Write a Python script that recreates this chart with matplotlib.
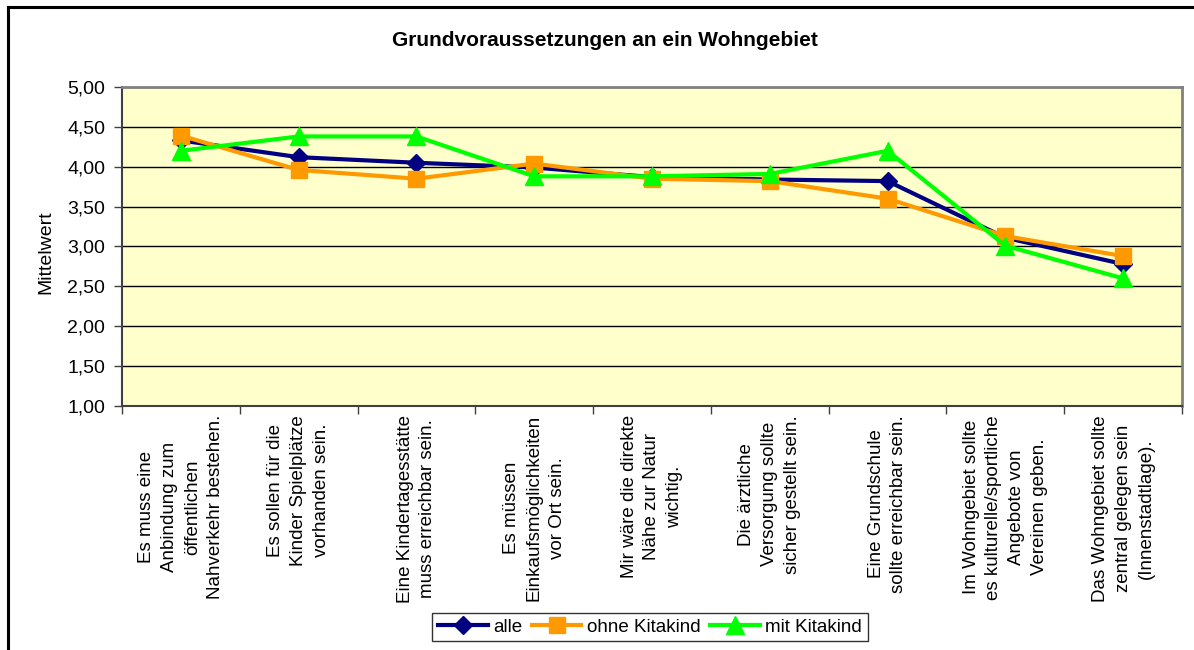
import matplotlib
matplotlib.use("Agg")
import matplotlib.pyplot as plt
import numpy as np
from matplotlib.lines import Line2D

plt.rcParams['font.family'] = ['Liberation Sans', 'DejaVu Sans']

categories = [
    "Es muss eine\nAnbindung zum\nöffentlichen\nNahverkehr bestehen.",
    "Es sollen für die\nKinder Spielplätze\nvorhanden sein.",
    "Eine Kindertagesstätte\nmuss erreichbar sein.",
    "Es müssen\nEinkaufsmöglichkeiten\nvor Ort sein.",
    "Mir wäre die direkte\nNähe zur Natur\nwichtig.",
    "Die ärztliche\nVersorgung sollte\nsicher gestellt sein.",
    "Eine Grundschule\nsollte erreichbar sein.",
    "Im Wohngebiet sollte\nes kulturelle/sportliche\nAngebote von\nVereinen geben.",
    "Das Wohngebiet sollte\nzentral gelegen sein\n(Innenstadtlage).",
]
alle = [4.33, 4.12, 4.05, 3.99, 3.87, 3.84, 3.82, 3.11, 2.78]
ohne_kitakind = [4.39, 3.96, 3.85, 4.04, 3.85, 3.82, 3.60, 3.13, 2.88]
mit_kitakind = [4.20, 4.38, 4.38, 3.88, 3.88, 3.91, 4.20, 3.01, 2.60]
yticks = [1.0, 1.5, 2.0, 2.5, 3.0, 3.5, 4.0, 4.5, 5.0]

W, H = 1194, 650
fig = plt.figure(figsize=(W/100, H/100), dpi=100)
ax = fig.add_axes([122/W, 1-406/H, (1182-122)/W, (406-87)/H])
ax.set_facecolor('#FFFFCC')

x = np.arange(len(categories))
ax.plot(x, alle, color='#000080', lw=3, marker='D', ms=9, label='alle', zorder=3)
ax.plot(x, ohne_kitakind, color='#FF9900', lw=3, marker='s', ms=11, label='ohne Kitakind', zorder=4)
ax.plot(x, mit_kitakind, color='#00FF00', lw=3, marker='^', ms=13, label='mit Kitakind', zorder=5)

ax.set_xlim(-0.5, len(categories)-0.5)
ax.set_ylim(1, 5)
ax.set_yticks(yticks)
ax.set_yticklabels([f"{v:.2f}".replace('.', ',') for v in yticks], fontsize=14)
for v in yticks[1:-1]:
    ax.axhline(v, color='black', lw=1, zorder=1)

ax.set_xticks(np.arange(len(categories)+1)-0.5)
ax.set_xticklabels([])
ax.tick_params(axis='x', length=6, color='#404040', width=1)
ax.tick_params(axis='y', length=6, color='#404040', width=1, pad=6)
for i, c in enumerate(categories):
    ax.text(i, -0.028, c, transform=ax.get_xaxis_transform(), rotation=90,
            ha='center', va='top', multialignment='center', fontsize=13.5,
            linespacing=1.45)

for s in ['left', 'bottom']:
    ax.spines[s].set_color('#404040')
    ax.spines[s].set_linewidth(1.5)
for s in ['top', 'right']:
    ax.spines[s].set_color('#808080')
    ax.spines[s].set_linewidth(2)

fig.text(46/W, 1-252/H, 'Mittelwert', rotation=90, ha='center', va='center', fontsize=14)
fig.text(605/W, 1-40/H, 'Grundvoraussetzungen an ein Wohngebiet', ha='center', va='center',
         fontsize=15, fontweight='bold')

leg = fig.legend(loc='center', bbox_to_anchor=(650/W, 1-627/H), ncol=3, fontsize=13.5,
                 frameon=True, fancybox=False, edgecolor='black', handlelength=2.65,
                 columnspacing=0.5, handletextpad=0.3, borderpad=0.3, borderaxespad=0)
leg.get_frame().set_linewidth(1)

fig.add_artist(Line2D([8/W, 8/W], [0, 1-7/H], color='black', lw=2.2, transform=fig.transFigure))
fig.add_artist(Line2D([8/W, 1], [1-7/H, 1-7/H], color='black', lw=2.2, transform=fig.transFigure))

fig.savefig('out.png', dpi=100)
